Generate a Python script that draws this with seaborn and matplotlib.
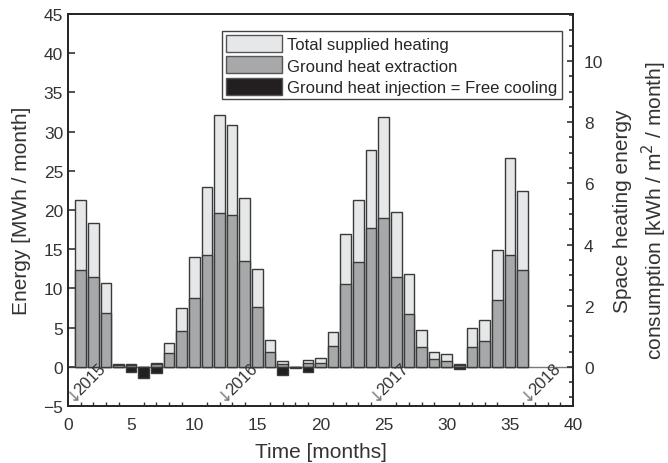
import numpy as np
import pandas as pd
import matplotlib
matplotlib.use("Agg")
import matplotlib.pyplot as plt
from matplotlib.patches import Patch
from matplotlib.ticker import MultipleLocator
import seaborn as sns

months = list(range(1, 37))
total_heating = [21.3, 18.3, 10.7, 0.3, 0.3, 0.0, 0.45, 3.0, 7.45, 14.05, 22.9, 32.1,
                 30.9, 21.5, 12.5, 3.45, 0.7, 0.0, 0.85, 1.07, 4.5, 16.9, 21.3, 27.6,
                 31.9, 19.7, 11.8, 4.65, 1.95, 1.58, 0.3, 4.95, 5.95, 14.85, 26.6, 22.4]
extraction = [12.4, 11.5, 6.9, 0.2, 0.2, 0.0, 0.3, 1.7, 4.55, 8.75, 14.2, 19.6,
              19.3, 13.45, 7.6, 1.95, 0.3, 0.0, 0.45, 0.45, 2.7, 10.5, 13.4, 17.7,
              18.95, 11.5, 6.7, 2.5, 0.95, 0.68, 0.2, 2.55, 3.3, 8.55, 14.2, 12.35]
injection = [0, 0, 0, 0, -0.7, -1.4, -0.85, 0, 0, 0, 0, 0,
             0, 0, 0, 0, -1.1, -0.2, -0.65, 0, 0, 0, 0, 0,
             0, 0, 0, 0, 0, 0, -0.25, 0, 0, 0, 0, 0]
year_labels = ["2015", "2016", "2017", "2018"]
year_months = [1, 13, 25, 37]
legend_labels = ["Total supplied heating", "Ground heat extraction",
                 "Ground heat injection = Free cooling"]

sns.set_theme(style="white")
plt.rcParams["font.family"] = ["Liberation Sans", "DejaVu Sans"]
plt.rcParams["text.color"] = "#262626"

c_total = "#e6e7e8"
c_ext = "#a7a8aa"
c_inj = "#231f20"
edge = "#3a3a3a"

df = pd.DataFrame({"month": months, "total": total_heating,
                   "extraction": extraction, "injection": injection})
inj_df = df[df["injection"] != 0]

fig = plt.figure(figsize=(6.68, 4.64), dpi=100)
ax = fig.add_axes([0.1018, 0.1228, 0.7560, 0.8449])

ax.axhline(0, color="#7a7a7a", lw=1.0, zorder=0)
sns.barplot(data=df, x="month", y="total", native_scale=True, width=0.85,
            color=c_total, saturation=1, edgecolor=edge, linewidth=1.0,
            errorbar=None, ax=ax)
sns.barplot(data=df, x="month", y="extraction", native_scale=True, width=0.85,
            color=c_ext, saturation=1, edgecolor=edge, linewidth=1.0,
            errorbar=None, ax=ax)
sns.barplot(data=inj_df, x="month", y="injection", native_scale=True, width=0.85,
            color=c_inj, saturation=1, edgecolor=edge, linewidth=1.0,
            errorbar=None, ax=ax)

ax.set_xlim(0, 40)
ax.set_ylim(-5, 45)
ax.xaxis.set_major_locator(MultipleLocator(5))
ax.xaxis.set_minor_locator(MultipleLocator(1))
ax.yaxis.set_major_locator(MultipleLocator(5))
ax.tick_params(axis="both", which="both", direction="in", labelsize=12.5,
               colors="#333333", top=False, right=False)
ax.tick_params(axis="both", which="major", length=5, width=1.2)
ax.tick_params(axis="x", which="minor", length=3, width=1.0, bottom=True)
ax.tick_params(axis="x", which="major", pad=8)
for s in ax.spines.values():
    s.set_color("#262626")
    s.set_linewidth(1.3)

ax.set_xlabel("Time [months]", fontsize=15, color="#333333", labelpad=7)
ax.set_ylabel("Energy [MWh / month]", fontsize=15, color="#333333", labelpad=9)

for m, lab in zip(year_months, year_labels):
    ax.text(m - 0.45, -4.9, "\u2193", rotation=45, rotation_mode="anchor",
            ha="left", va="bottom", fontsize=12, color="#777777",
            family="DejaVu Sans")
    ax.annotate(lab, xy=(m - 0.45, -4.9), xytext=(5.5, 5.5),
                textcoords="offset points", rotation=45,
                rotation_mode="anchor", ha="left", va="bottom",
                fontsize=12, color="#333333")

ax2 = ax.twinx()
ratio = 3.9
ax2.set_ylim(-5 / ratio, 45 / ratio)
ax2.yaxis.set_major_locator(MultipleLocator(2))
ax2.yaxis.set_minor_locator(MultipleLocator(0.5))
ax2.tick_params(axis="y", which="both", direction="in", labelsize=12.5,
                colors="#333333", right=True, pad=8)
ax2.tick_params(axis="y", which="major", length=4, width=1.2)
ax2.tick_params(axis="y", which="minor", length=3, width=1.2)
for s in ax2.spines.values():
    s.set_color("#262626")
    s.set_linewidth(1.3)
ax2.set_ylabel("Space heating energy\nconsumption [kWh / m$^2$ / month]",
               fontsize=15, color="#333333", labelpad=7, linespacing=1.35)

handles = [Patch(facecolor=c_total, edgecolor="#555555", lw=1.0),
           Patch(facecolor=c_ext, edgecolor="#555555", lw=1.0),
           Patch(facecolor=c_inj, edgecolor="#555555", lw=1.0)]
leg = ax.legend(handles, legend_labels, loc="upper right",
                bbox_to_anchor=(0.978, 0.957), borderaxespad=0,
                fontsize=12, handlelength=3.4, handleheight=1.2,
                handletextpad=0.3, labelspacing=0.25, borderpad=0.25,
                fancybox=False, framealpha=1, edgecolor="#444444")
leg.get_frame().set_linewidth(1.0)

fig.savefig("out.png", dpi=100)
